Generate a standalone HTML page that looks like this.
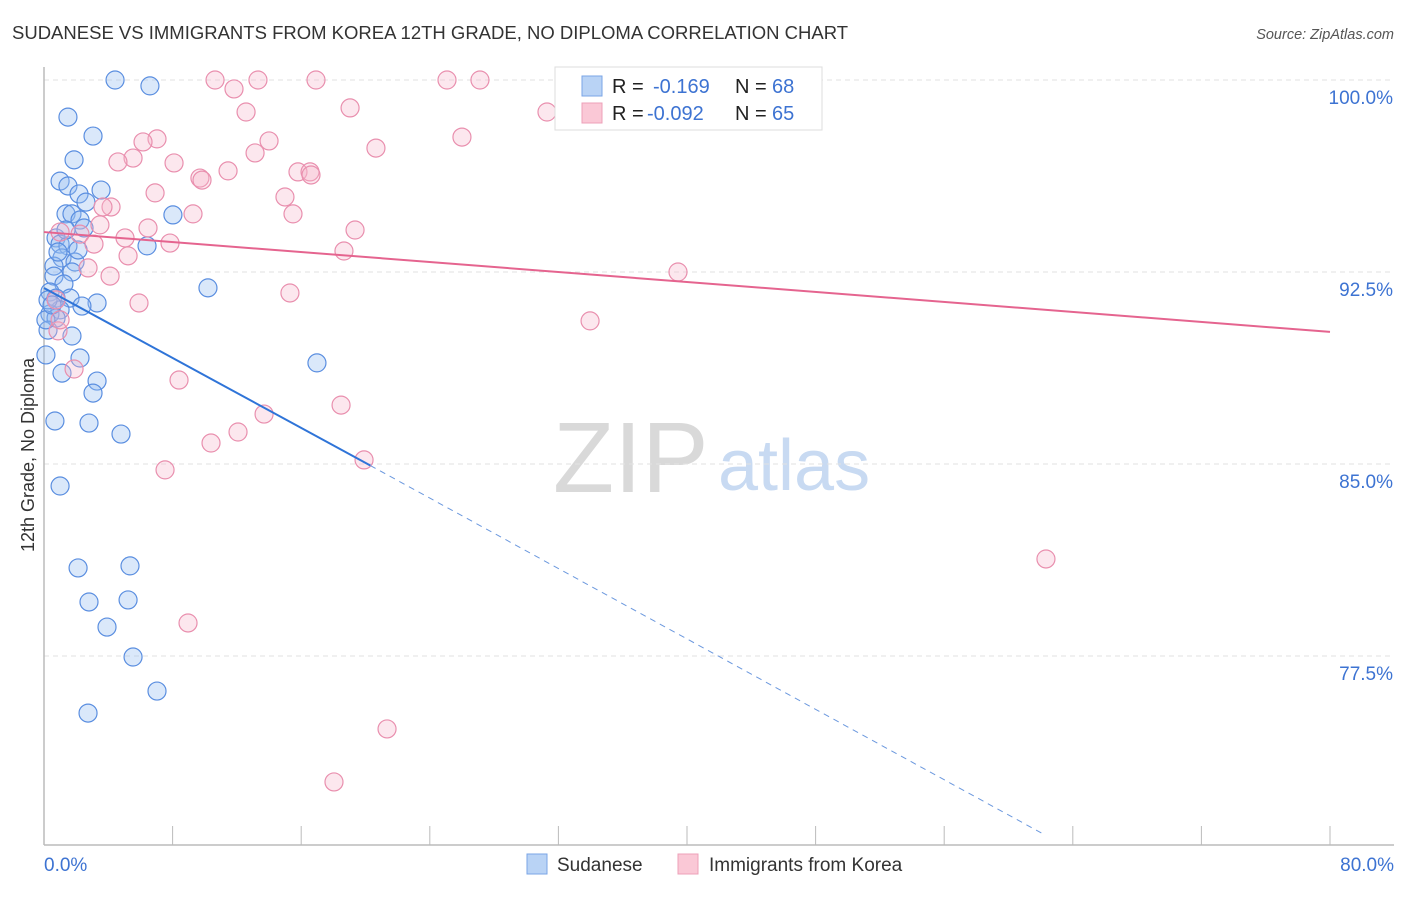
<!DOCTYPE html>
<html><head><meta charset="utf-8"><style>
body{margin:0;background:#fff;font-family:"Liberation Sans",sans-serif;}
svg text{font-family:"Liberation Sans",sans-serif;}
</style></head><body>
<svg id="chart" width="1406" height="892" xmlns="http://www.w3.org/2000/svg">
<text x="12" y="39" font-size="18.5" fill="#333">SUDANESE VS IMMIGRANTS FROM KOREA 12TH GRADE, NO DIPLOMA CORRELATION CHART</text>
<text x="1394" y="39" font-size="14.5" fill="#555" text-anchor="end" font-style="italic">Source: ZipAtlas.com</text>
<g>
<text x="553" y="492" font-size="100" fill="#d9d9d9" font-family="Liberation Serif">ZIP</text>
<text x="718" y="490" font-size="72" fill="#c8daf2">atlas</text>
</g>
<g id="grid"></g>
<g id="axes"></g>
<g id="pts"></g>
<g id="lines"></g>
<text transform="translate(34,455) rotate(-90)" font-size="18" fill="#333" text-anchor="middle">12th Grade, No Diploma</text>
<g>
<rect x="555" y="67" width="267" height="63" fill="#fff" stroke="#ddd"/>
<rect x="582" y="76" width="20" height="20" fill="#b9d3f5" stroke="#7aa5e6"/>
<rect x="582" y="103" width="20" height="20" fill="#fac8d6" stroke="#eda0b8"/>
<text x="612" y="93" font-size="20" fill="#222">R =</text>
<text x="653" y="93" font-size="20" fill="#3d73d2">-0.169</text>
<text x="735" y="93" font-size="20" fill="#222">N =</text>
<text x="772" y="93" font-size="20" fill="#3d73d2">68</text>
<text x="612" y="120" font-size="20" fill="#222">R =</text>
<text x="647" y="120" font-size="20" fill="#3d73d2">-0.092</text>
<text x="735" y="120" font-size="20" fill="#222">N =</text>
<text x="772" y="120" font-size="20" fill="#3d73d2">65</text>
</g>
<g>
<rect x="527" y="854" width="20" height="20" fill="#b9d3f5" stroke="#7aa5e6"/>
<text x="557" y="871" font-size="19" fill="#333">Sudanese</text>
<rect x="678" y="854" width="20" height="20" fill="#fac8d6" stroke="#eda0b8"/>
<text x="709" y="871" font-size="19" fill="#333">Immigrants from Korea</text>
</g>
</svg>
<script>
const xTicks=[0,8,16,24,32,40,48,56,64,72,80];
const yTicks=[100,92.5,85,77.5];
const yTickLabels=["100.0%","92.5%","85.0%","77.5%"];
const xEndLabels=["0.0%","80.0%"];
const sudX=[4.42,6.59,1.49,3.05,1.87,1.0,1.49,3.55,2.18,2.61,1.37,1.74,2.24,8.02,2.49,0.75,1.0,1.49,6.41,1.12,0.62,1.93,1.74,0.62,1.24,0.37,0.75,1.62,3.30,2.36,1.0,0.37,0.75,1.74,0.25,10.2,2.24,0.12,1.12,3.30,3.05,16.98,0.68,2.80,4.79,1.0,2.12,5.35,2.80,5.23,3.92,5.54,7.03,2.74,0.25,0.12,0.5,0.87,1.37,2.12];
const sudY=[100,99.77,98.55,97.81,96.88,96.05,95.86,95.70,95.55,95.23,94.77,94.77,94.53,94.73,94.22,93.83,93.59,93.52,93.52,93.05,92.73,92.89,92.5,92.34,92.03,91.72,91.48,91.48,91.29,91.17,91.02,90.86,90.70,90.0,90.23,91.88,89.14,89.26,88.55,88.24,87.77,88.95,86.68,86.60,86.17,84.14,80.94,81.02,79.61,79.69,78.63,77.46,76.13,75.27,91.41,90.63,91.21,93.28,94.14,93.36];
const korX=[10.64,13.31,16.92,25.07,27.12,11.82,19.04,12.57,31.29,26.0,7.03,6.16,14.0,20.65,5.54,13.13,4.60,8.09,11.45,9.70,9.83,15.80,16.55,16.61,6.91,14.99,4.17,3.67,9.27,15.49,1.0,6.47,2.24,5.04,19.35,7.84,3.11,18.66,5.23,2.74,4.11,39.44,15.30,5.91,33.97,0.87,1.87,8.40,18.48,13.69,12.07,10.39,19.91,7.53,62.33,8.96,21.34,18.04,1.0,0.75,3.48];
const korY=[100,100,100,100,100,99.65,98.91,98.75,98.75,97.77,97.70,97.58,97.62,97.34,96.95,97.15,96.80,96.76,96.45,96.17,96.09,96.41,96.41,96.29,95.59,95.43,95.04,95.04,94.77,94.77,94.06,94.22,93.98,93.83,94.14,93.63,93.59,93.32,93.13,92.66,92.34,92.5,91.68,91.29,90.59,90.20,88.71,88.28,87.30,86.95,86.25,85.82,85.16,84.77,81.29,78.79,74.65,72.58,90.63,91.41,94.34];
const sudTrend=[0,91.875,20.3,84.94,62.3,70.5];
const korTrend=[0,94.06,80,90.16];
const NS="http://www.w3.org/2000/svg";
const X=v=>44+v/80*1286;
const Y=v=>80+(100-v)/7.5*192;
function mk(tag,attrs,parent){const e=document.createElementNS(NS,tag);for(const k in attrs)e.setAttribute(k,attrs[k]);document.getElementById(parent).appendChild(e);return e;}
yTicks.forEach((t,i)=>{
 const g=mk('line',{x1:44,x2:1394,y1:Y(t),y2:Y(t),stroke:'#e2e2e2','stroke-dasharray':'5,4'},'grid');
 
 
 const l=mk('text',{x:1393,y:Y(t)+24,'font-size':19,fill:'#3d73d2','text-anchor':'end'},'axes');
 l.textContent=yTickLabels[i];
 
 
});
const ax=mk('line',{x1:44,x2:1394,y1:845,y2:845,stroke:'#bbb','stroke-width':1.5},'axes');


const ay=mk('line',{x1:44,x2:44,y1:67,y2:845,stroke:'#bbb','stroke-width':1.5},'axes');


xTicks.forEach(t=>{
 const e=mk('line',{x1:X(t),x2:X(t),y1:826,y2:845,stroke:'#bbb'},'axes');
 
 
});
[[0,'start',44],[80,'end',1394]].forEach((a,i)=>{
 const e=mk('text',{x:a[2],y:871,'font-size':19,fill:'#3d73d2','text-anchor':a[1]},'axes');
 e.textContent=xEndLabels[i];
 
 
});
sudX.forEach((v,i)=>{
 const c=mk('circle',{cx:X(v),cy:Y(sudY[i]),r:9,fill:'rgba(150,190,242,0.35)',stroke:'#5a8ee0','stroke-width':1.2},'pts');
 
 
});
korX.forEach((v,i)=>{
 const c=mk('circle',{cx:X(v),cy:Y(korY[i]),r:9,fill:'rgba(247,182,203,0.33)',stroke:'#e98fae','stroke-width':1.2},'pts');
 
 
});
let s=mk('line',{x1:X(sudTrend[0]),y1:Y(sudTrend[1]),x2:X(sudTrend[2]),y2:Y(sudTrend[3]),stroke:'#2f74d8','stroke-width':2},'lines');


s=mk('line',{x1:X(sudTrend[2]),y1:Y(sudTrend[3]),x2:X(sudTrend[4]),y2:Y(sudTrend[5]),stroke:'#6b98de','stroke-width':1,'stroke-dasharray':'6,5'},'lines');


s=mk('line',{x1:X(korTrend[0]),y1:Y(korTrend[1]),x2:X(korTrend[2]),y2:Y(korTrend[3]),stroke:'#e5648f','stroke-width':2},'lines');


</script>
</body></html>
